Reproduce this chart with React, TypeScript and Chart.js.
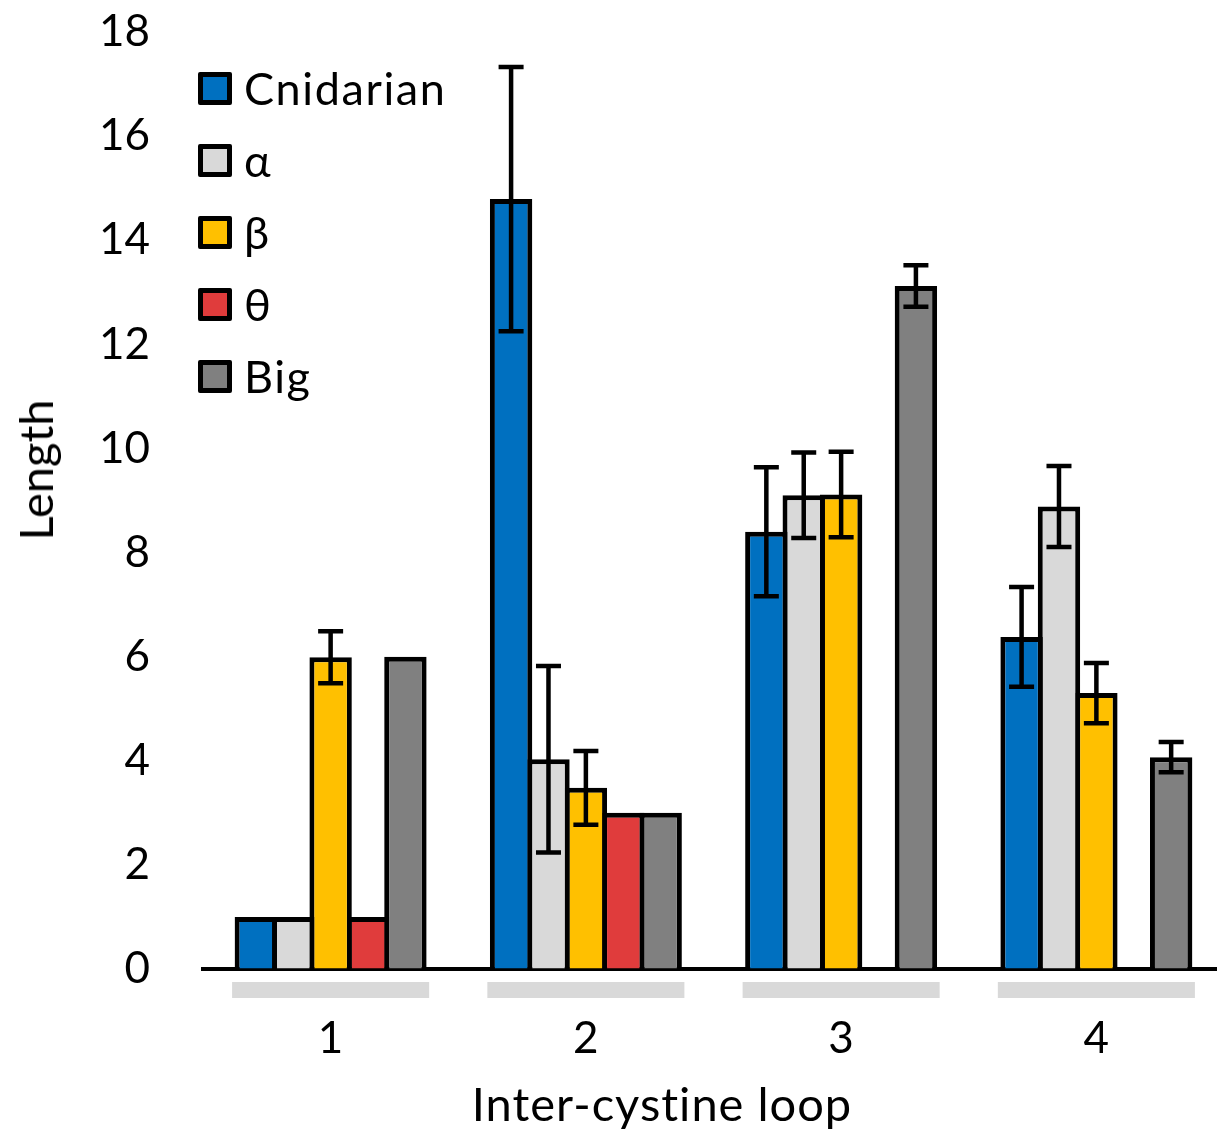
import React, { useEffect, useRef } from "react";
import { Chart, registerables } from "chart.js";

Chart.register(...registerables);

const categories = ["1", "2", "3", "4"];
const seriesNames = ["Cnidarian", "α", "β", "θ", "Big"];
const seriesColors = ["#0070c0", "#d9d9d9", "#ffc000", "#e03c3c", "#808080"];

const cnidarian = [1, 14.79, 8.4, 6.38];
const alpha = [1, 4.03, 9.1, 8.885];
const beta = [5.99, 3.48, 9.115, 5.3];
const theta = [1, 3, null, null];
const big = [6, 3, 13.12, 4.07];

const cnidarianErr = [null, 2.54, 1.24, 0.96];
const alphaErr = [null, 1.79, 0.82, 0.78];
const betaErr = [0.5, 0.71, 0.82, 0.58];
const thetaErr = [null, null, null, null];
const bigErr = [null, null, 0.4, 0.29];

const seriesValues = [cnidarian, alpha, beta, theta, big];
const seriesErrors = [cnidarianErr, alphaErr, betaErr, thetaErr, bigErr];

const yTicks = [0, 2, 4, 6, 8, 10, 12, 14, 16, 18];

const FONT = "Lato";
const CANVAS_W = 1224;

const errorBarPlugin = {
  id: "errorBars",
  afterDatasetsDraw(chart: any) {
    const ctx = chart.ctx;
    const yScale = chart.scales.y;
    ctx.save();
    ctx.strokeStyle = "#000";
    ctx.lineWidth = 4.5;
    ctx.lineCap = "butt";
    chart.data.datasets.forEach((ds: any, di: number) => {
      const meta = chart.getDatasetMeta(di);
      const errs = seriesErrors[di];
      meta.data.forEach((el: any, i: number) => {
        const v = ds.data[i];
        const e = errs[i];
        if (v == null || e == null) return;
        const x = el.x;
        const yTop = yScale.getPixelForValue(v + e);
        const yBot = yScale.getPixelForValue(v - e);
        const hw = 12.5;
        ctx.beginPath();
        ctx.moveTo(x, yTop);
        ctx.lineTo(x, yBot);
        ctx.moveTo(x - hw, yTop);
        ctx.lineTo(x + hw, yTop);
        ctx.moveTo(x - hw, yBot);
        ctx.lineTo(x + hw, yBot);
        ctx.stroke();
      });
    });
    ctx.restore();
  },
};

const categoryBandPlugin = {
  id: "categoryBands",
  afterDraw(chart: any) {
    const ctx = chart.ctx;
    const xScale = chart.scales.x;
    const area = chart.chartArea;
    const catW = (area.right - area.left) / categories.length;
    const w = catW * 0.772;
    ctx.save();
    ctx.fillStyle = "#d9d9d9";
    categories.forEach((_c, i) => {
      const cx = xScale.getPixelForValue(i);
      ctx.fillRect(cx - w / 2, area.bottom + 13, w, 16);
    });
    ctx.restore();
  },
};

export default function App() {
  const canvasRef = useRef<HTMLCanvasElement | null>(null);

  useEffect(() => {
    if (!canvasRef.current) return;
    const chart = new Chart(canvasRef.current, {
      type: "bar",
      data: {
        labels: categories,
        datasets: seriesNames.map((name, i) => ({
          label: name,
          data: seriesValues[i],
          backgroundColor: seriesColors[i],
          borderColor: "#000",
          borderWidth: 5,
          categoryPercentage: 0.7325,
          barPercentage: 1.134,
        })),
      },
      options: {
        responsive: false,
        animation: false,
        layout: { padding: { top: 32, left: 0, right: 0, bottom: 0 } },
        plugins: {
          legend: { display: false },
          tooltip: { enabled: false },
        },
        scales: {
          x: {
            z: 1,
            grid: { display: false, drawTicks: false },
            border: { display: true, color: "#000", width: 4 },
            ticks: {
              color: "#000",
              font: { family: FONT, size: 44 },
              padding: 43,
            },
            afterFit(scale: any) {
              scale.height = 165;
            },
          },
          y: {
            min: 0,
            max: 18,
            afterBuildTicks(scale: any) {
              scale.ticks = yTicks.map((v) => ({ value: v }));
            },
            grid: {
              display: true,
              drawOnChartArea: false,
              drawTicks: true,
              tickLength: 53,
              color: "rgba(0,0,0,0)",
            },
            border: { display: false },
            ticks: {
              color: "#000",
              font: { family: FONT, size: 44 },
              padding: 0,
            },
            afterFit(scale: any) {
              scale.width = 203;
            },
          },
        },
      },
      plugins: [errorBarPlugin, categoryBandPlugin],
    });
    return () => chart.destroy();
  }, []);

  const legendTop = 88;
  const legendStep = 72;

  return (
    <div
      style={{
        position: "absolute",
        left: 0,
        top: 0,
        width: 1217,
        height: 1134,
        background: "#fff",
        fontFamily: FONT,
        color: "#000",
        overflow: "hidden",
      }}
    >
      <canvas
        ref={canvasRef}
        width={CANVAS_W}
        height={1134}
        style={{ position: "absolute", left: 0, top: 0, width: CANVAS_W, height: 1134 }}
      />
      {seriesNames.map((name, i) => (
        <div
          key={name}
          style={{
            position: "absolute",
            left: 198,
            top: legendTop + i * legendStep,
            transform: "translateY(-50%)",
            display: "flex",
            alignItems: "center",
            whiteSpace: "nowrap",
          }}
        >
          <div
            style={{
              width: 24,
              height: 23,
              border: "5px solid #000",
              background: seriesColors[i],
              borderRadius: 2,
            }}
          />
          <span style={{ fontSize: 45, lineHeight: "52px", marginLeft: 12, letterSpacing: 1.6 }}>
            {name}
          </span>
        </div>
      ))}
      <div
        style={{
          position: "absolute",
          left: 35,
          top: 470,
          transform: "translate(-50%, -50%) rotate(-90deg)",
          fontSize: 47,
          lineHeight: "56px",
          whiteSpace: "nowrap",
        }}
      >
        Length
      </div>
      <div
        style={{
          position: "absolute",
          left: 662,
          top: 1103,
          transform: "translate(-50%, -50%)",
          fontSize: 47,
          lineHeight: "56px",
          whiteSpace: "nowrap",
          letterSpacing: 1,
        }}
      >
        Inter-cystine loop
      </div>
    </div>
  );
}
